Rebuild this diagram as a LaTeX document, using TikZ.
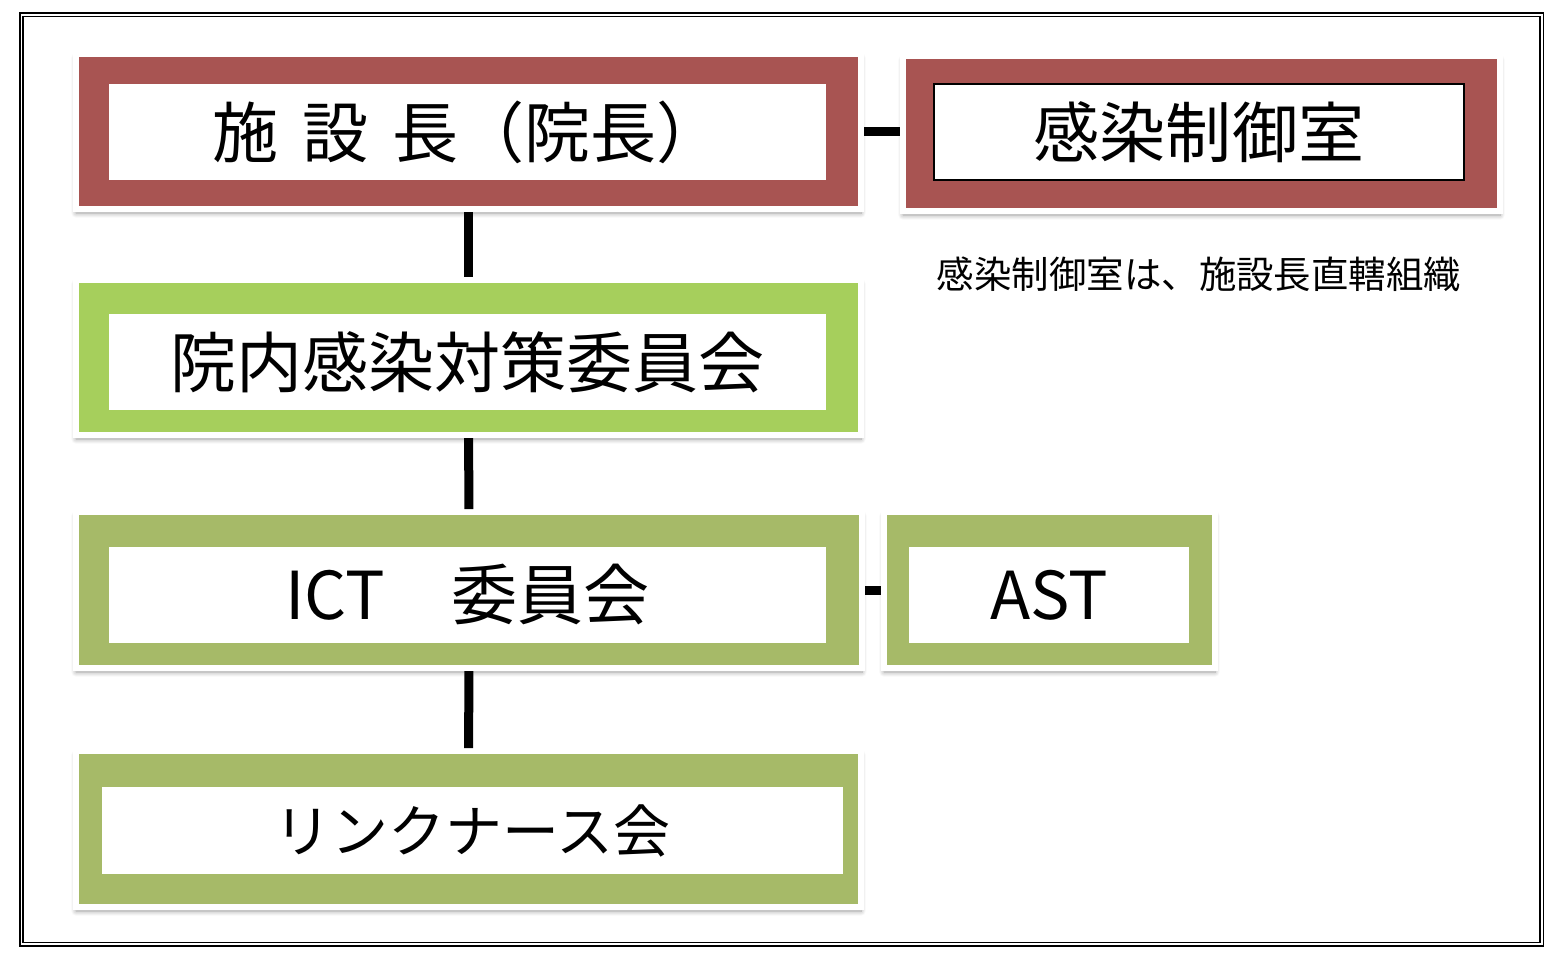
\documentclass[tikz,border=0pt]{standalone}
\usepackage{fontspec}
\newfontfamily\jpfont{Noto Sans CJK JP}
\usepackage{tikz}
\usetikzlibrary{shapes,shadows,shadows.blur,positioning}
\definecolor{icred}{RGB}{168,84,82}
\definecolor{iclime}{RGB}{166,207,92}
\definecolor{icolive}{RGB}{166,186,104}
\newcommand{\boxfont}{\jpfont\fontsize{37.6pt}{42pt}\selectfont}
\tikzstyle{frame} = [rectangle, draw=white, line width=0.12cm, blur shadow={shadow xshift=0cm, shadow yshift=-0.08cm, shadow blur radius=0.1cm, shadow blur steps=8, shadow opacity=40}]
\tikzstyle{inbox} = [rectangle, fill=white, text=black, inner sep=0pt]
\tikzstyle{conn} = [line width=0.18cm, color=black]

\begin{document}
\begin{tikzpicture}
\useasboundingbox (0,0) rectangle (31.12,-19.1);
\draw[line width=0.03cm, double=white, double distance=0.04cm] (0.43,-0.29) rectangle (30.83,-18.88);

\node[frame, fill=icred, minimum width=15.70cm, minimum height=3.10cm] (dir) at (9.37,-2.63) {};
\node[inbox, minimum width=14.34cm, minimum height=1.92cm] (dirt) at (9.35,-2.64) {\boxfont 施\hspace{0.36em}設\hspace{0.36em}長（院長）};

\node[frame, fill=icred, minimum width=11.94cm, minimum height=3.10cm] (icr) at (24.03,-2.67) {};
\node[inbox, draw=black, line width=0.04cm, minimum width=10.6cm, minimum height=1.92cm] (icrt) at (23.98,-2.64) {\boxfont 感染制御室};
\node[font=\jpfont\fontsize{21.3pt}{24pt}\selectfont] (note) at (23.98,-5.48) {感染制御室は、施設長直轄組織};

\node[frame, fill=iclime, minimum width=15.70cm, minimum height=3.10cm] (comm) at (9.37,-7.15) {};
\node[inbox, minimum width=14.34cm, minimum height=1.92cm] (commt) at (9.35,-7.24) {\boxfont 院内感染対策委員会};

\node[frame, fill=icolive, minimum width=15.72cm, minimum height=3.12cm] (ict) at (9.38,-11.8) {};
\node[inbox, minimum width=14.34cm, minimum height=1.92cm] (ictt) at (9.35,-11.9) {\boxfont ICT　委員会};

\node[frame, fill=icolive, minimum width=6.62cm, minimum height=3.12cm] (ast) at (20.99,-11.8) {};
\node[inbox, minimum width=5.6cm, minimum height=1.92cm] (astt) at (20.98,-11.9) {\boxfont AST};

\node[frame, fill=icolive, minimum width=15.70cm, minimum height=3.12cm] (link) at (9.37,-16.58) {};
\node[inbox, minimum width=14.82cm, minimum height=1.74cm] (linkt) at (9.45,-16.61) {\jpfont\fontsize{32.4pt}{36pt}\selectfont リンクナース会};

\draw[conn] (dir.east) -- (dir.east -| icr.west);
\draw[conn] (dir) -- (comm);
\draw[conn] (comm) -- (ict);
\draw[conn] (ict) -- (ast);
\draw[conn] (ict) -- (link);
\end{tikzpicture}
\end{document}
